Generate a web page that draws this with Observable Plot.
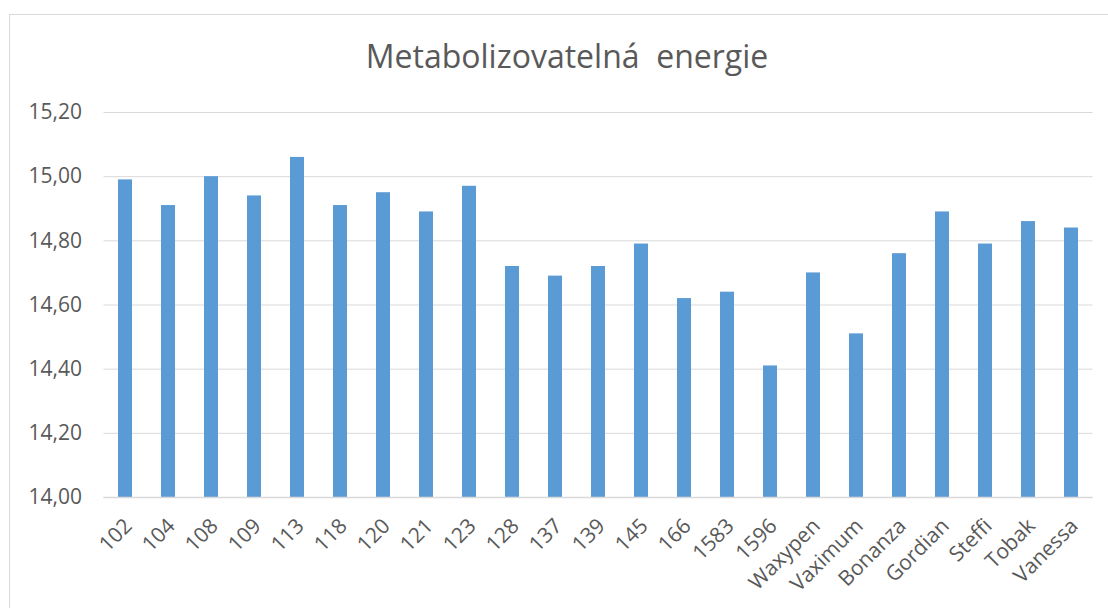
<!DOCTYPE html>
<html>
<head>
<meta charset="utf-8">
<script src="https://cdn.jsdelivr.net/npm/d3@7"></script>
<script src="https://cdn.jsdelivr.net/npm/@observablehq/plot@0.6"></script>
<style>
  html, body { margin: 0; padding: 0; background: #fff; }
  #wrap { position: relative; width: 1108px; height: 608px; overflow: hidden; }
  #frame { position: absolute; left: 9px; top: 14px; width: 1200px; height: 700px; border: 1px solid #d9d9d9; box-sizing: border-box; }
  #title { position: absolute; left: 13px; top: 40px; width: 1108px; text-align: center;
           font-family: "Open Sans", "Liberation Sans", sans-serif; font-size: 32px; line-height: 32px; color: #595959; white-space: pre; }
  #chart { position: absolute; left: 0; top: 0; }
</style>
</head>
<body>
<div id="wrap">
  <div id="frame"></div>
  <div id="chart"></div>
  <div id="title">Metabolizovatelná  energie</div>
</div>
<script>
const categories = ["102","104","108","109","113","118","120","121","123","128","137","139","145","166","1583","1596","Waxypen","Vaximum","Bonanza","Gordian","Steffi","Tobak","Vanessa"];
const values = [14.99,14.91,15.00,14.94,15.06,14.91,14.95,14.89,14.97,14.72,14.69,14.72,14.79,14.62,14.64,14.41,14.70,14.51,14.76,14.89,14.79,14.86,14.84];
const yTicks = [14.0,14.2,14.4,14.6,14.8,15.0,15.2];

const data = categories.map((c, i) => ({cat: c, v: values[i]}));

const chart = Plot.plot({
  width: 1108,
  height: 608,
  marginLeft: 103.5,
  marginRight: 15.5,
  marginTop: 112,
  marginBottom: 111,
  style: {fontFamily: "'Open Sans', 'Liberation Sans', sans-serif", fontSize: "20px", color: "#595959", background: "transparent"},
  x: {domain: categories, paddingInner: 0.67, paddingOuter: 0.335, label: null},
  y: {domain: [14, 15.2], label: null},
  marks: [
    Plot.gridY(yTicks, {stroke: "#d9d9d9", strokeOpacity: 1, strokeWidth: 1}),
    Plot.barY(data, {x: "cat", y1: 14, y2: "v", fill: "#5b9bd5"}),
    Plot.ruleY([14], {stroke: "#d9d9d9", strokeWidth: 1.5}),
    Plot.axisY({ticks: yTicks, tickSize: 0, tickPadding: 22, tickFormat: d => d.toFixed(2).replace(".", ","), fontSize: 21, fill: "#595959", label: null}),
    Plot.axisX({tickSize: 0, tickPadding: 25, tickRotate: -45, fontSize: 21, fill: "#595959", label: null, dx: 3})
  ]
});
document.getElementById("chart").appendChild(chart);
</script>
</body>
</html>
